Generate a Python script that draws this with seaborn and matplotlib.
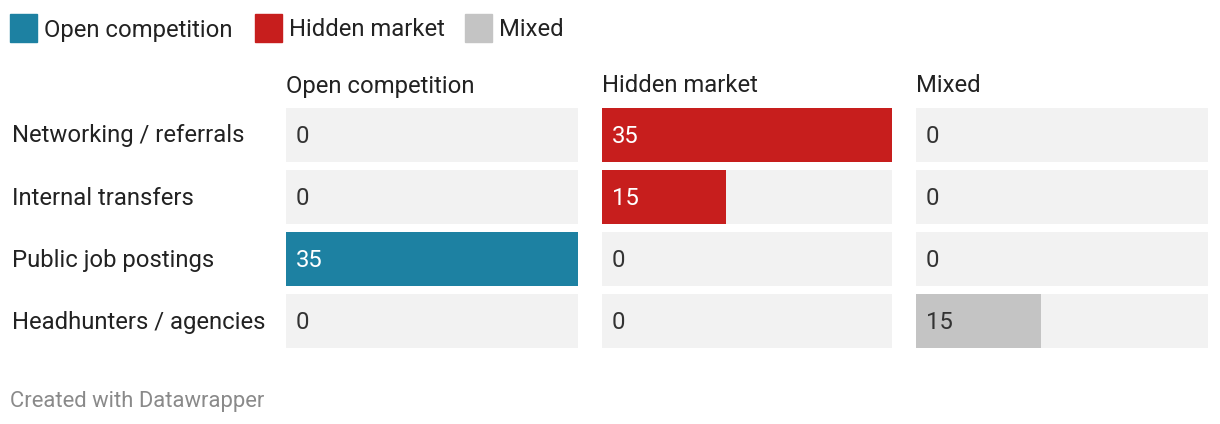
import pandas as pd
import seaborn as sns
import matplotlib.pyplot as plt
from matplotlib.patches import Rectangle

# Data
channels = ["Networking / referrals", "Internal transfers", "Public job postings", "Headhunters / agencies"]
open_competition = [0, 0, 35, 0]
hidden_market = [35, 15, 0, 0]
mixed = [0, 0, 0, 15]
groups = ["Open competition", "Hidden market", "Mixed"]
colors = ["#1d81a2", "#c71e1d", "#c4c4c4"]
max_value = 35

sns.set_theme(style="white")
plt.rcParams["font.family"] = ["Roboto", "DejaVu Sans"]

W, H = 1220, 424
FS = 17.2
fig = plt.figure(figsize=(W / 100, H / 100), dpi=100)

series = [open_competition, hidden_market, mixed]
lefts = [286, 602, 916]
widths = [292, 290, 292]

for i, (vals, group, col) in enumerate(zip(series, groups, colors)):
    ax = fig.add_axes([lefts[i] / W, (H - 352) / H, widths[i] / W, 248 / H])
    df = pd.DataFrame({"channel": channels, "value": vals, "bg": [max_value] * len(channels)})
    sns.barplot(data=df, x="bg", y="channel", color="#f2f2f2", width=0.87, ax=ax,
                saturation=1, linewidth=0)
    sns.barplot(data=df, x="value", y="channel", color=col, width=0.87, ax=ax,
                saturation=1, linewidth=0)
    ax.set_xlim(0, max_value)
    ax.set_ylim(3.5, -0.5)
    ax.axis("off")
    for j, v in enumerate(vals):
        if v > 0 and group != "Mixed":
            tc = "white"
        else:
            tc = "#333333"
        ax.text(max_value * 10 / widths[i], j + 0.02, str(v), va="center", ha="left",
                fontsize=FS, color=tc)
    fig.text(lefts[i] / W, 1 - 86 / H, group, ha="left", va="center", fontsize=FS, color="#222222")

# row labels
for j, name in enumerate(channels):
    fig.text(12 / W, 1 - (136 + 62 * j) / H, name, ha="left", va="center", fontsize=FS, color="#222222")

# legend
leg_x = [10, 255, 465]
for k, (group, col) in enumerate(zip(groups, colors)):
    fig.add_artist(Rectangle((leg_x[k] / W, 1 - 42 / H), 27 / W, 28 / H,
                             transform=fig.transFigure, color=col))
    fig.text((leg_x[k] + 34) / W, 1 - 30 / H, group, ha="left", va="center", fontsize=FS, color="#222222")

fig.text(10 / W, 1 - 402 / H, "Created with Datawrapper", ha="left", va="center", fontsize=15.8, color="#8a8a8a")

plt.savefig("out.png", dpi=100)
plt.close()
